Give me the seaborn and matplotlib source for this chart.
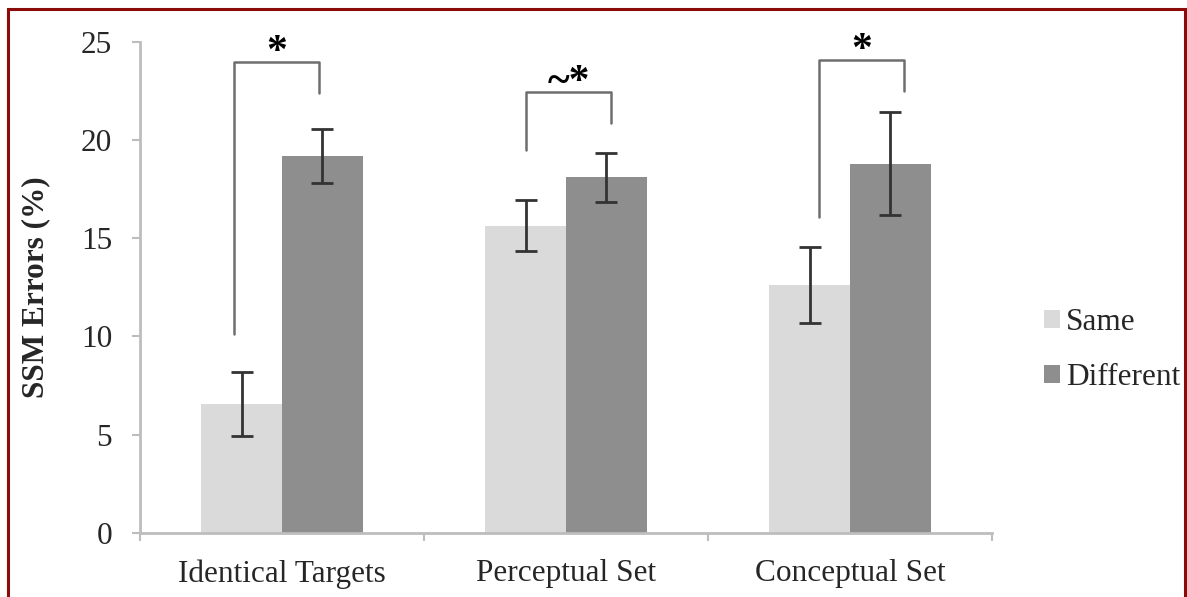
import matplotlib
matplotlib.use("Agg")
import matplotlib.pyplot as plt
import matplotlib.patches as mpatches
import numpy as np
import pandas as pd
import seaborn as sns

# ---- data ----
categories = ["Identical Targets", "Perceptual Set", "Conceptual Set"]
conditions = ["Same", "Different"]
same_means = [6.55, 15.65, 12.6]
diff_means = [19.2, 18.1, 18.8]
same_err = [1.62, 1.32, 1.94]
diff_err = [1.36, 1.25, 2.63]

# significance brackets: (left x, right x, top y, left leg bottom, right leg bottom, label)
bracket_left = [-0.17, -0.14, -0.11]
bracket_right = [0.13, 0.16, 0.19]
bracket_top = [24.0, 22.45, 24.1]
bracket_left_bottom = [10.1, 19.5, 16.1]
bracket_right_bottom = [22.4, 20.85, 22.5]
bracket_labels = ["*", "~*", "*"]

colors = {"Same": "#dadada", "Different": "#8e8e8e"}

df = pd.DataFrame({
    "category": categories * 2,
    "condition": ["Same"] * 3 + ["Different"] * 3,
    "value": same_means + diff_means,
})

sns.set_style("white")
plt.rcParams["font.family"] = ["Liberation Serif", "DejaVu Serif"]

FS = 22.5

fig = plt.figure(figsize=(11.87, 5.97), dpi=100)
ax = fig.add_axes([140 / 1187, 1 - 532.7 / 597, (992 - 140) / 1187, (532.7 - 42) / 597])

sns.barplot(data=df, x="category", y="value", hue="condition",
            order=categories, hue_order=conditions, palette=colors,
            errorbar=None, width=0.57, saturation=1, linewidth=0,
            legend=False, ax=ax)

# error bars at bar centres
half = 0.57 / 4
xs = np.arange(len(categories))
ax.errorbar(xs - half, same_means, yerr=same_err, fmt="none",
            ecolor="#333333", elinewidth=2, capsize=8, capthick=2, zorder=5)
ax.errorbar(xs + half, diff_means, yerr=diff_err, fmt="none",
            ecolor="#333333", elinewidth=2, capsize=8, capthick=2, zorder=5)

# significance brackets
for i in range(len(categories)):
    xl, xr = i + bracket_left[i], i + bracket_right[i]
    ax.plot([xl, xl, xr, xr],
            [bracket_left_bottom[i], bracket_top[i], bracket_top[i], bracket_right_bottom[i]],
            color="#6e6e6e", lw=1.8, clip_on=False, zorder=4)
    ax.text((xl + xr) / 2, bracket_top[i] + 0.45, bracket_labels[i],
            ha="center", va="center", fontsize=30, fontweight="bold",
            color="black", clip_on=False)

# axes styling
ax.set_ylim(0, 25)
ax.set_xlim(-0.5, 2.5)
ax.set_yticks([0, 5, 10, 15, 20, 25])
ax.set_xlabel("")
ax.set_ylabel("SSM Errors (%)", fontsize=FS, fontweight="bold", labelpad=22)
for side in ["top", "right"]:
    ax.spines[side].set_visible(False)
for side in ["left", "bottom"]:
    ax.spines[side].set_color("#bdbdbd")
    ax.spines[side].set_linewidth(2)

ax.tick_params(axis="y", which="major", direction="out", length=6, width=1.5,
               color="#bdbdbd", pad=14, labelsize=FS, left=True)
ax.tick_params(axis="x", which="major", length=0, pad=19, labelsize=FS)
ax.set_xticks([-0.5, 0.5, 1.5, 2.5], minor=True)
ax.tick_params(axis="x", which="minor", direction="out", length=6, width=1.5,
               color="#bdbdbd", bottom=True)

# legend
handles = [mpatches.Patch(facecolor=colors[c], edgecolor="none", label=c) for c in conditions]
fig.legend(handles=handles, loc="center left", bbox_to_anchor=(1016 / 1187, 1 - 350 / 597),
           frameon=False, fontsize=FS, handlelength=0.5, handleheight=0.5,
           handletextpad=0.2, labelspacing=0.85)

# frame around the figure
fig.patches.append(mpatches.Rectangle((8 / 1187, -0.05), (1185 - 8) / 1187, 1.05 - 9 / 597,
                                      transform=fig.transFigure, fill=False,
                                      edgecolor="#8b0a0a", linewidth=2.2))

fig.savefig("out.png", dpi=100)
